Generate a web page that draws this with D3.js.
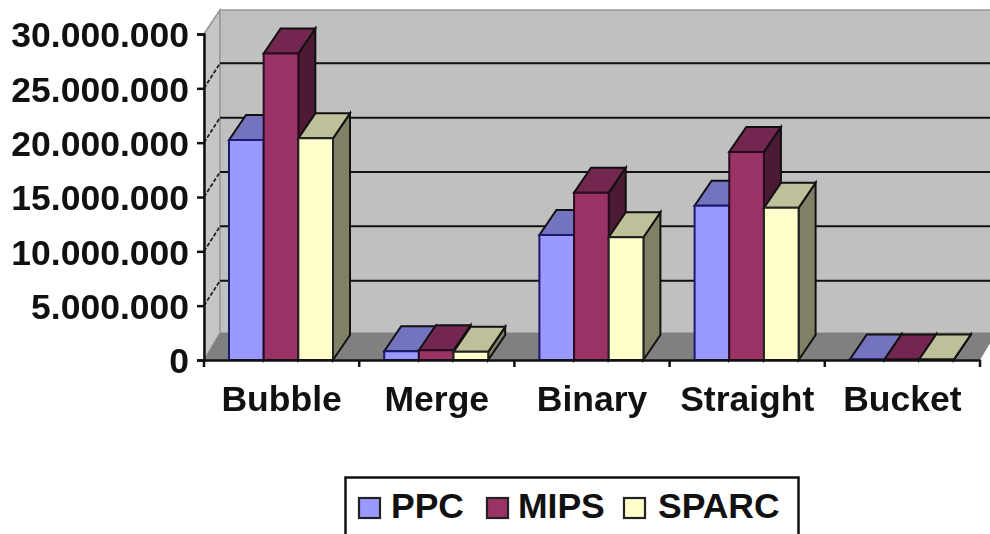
<!DOCTYPE html>
<html><head><meta charset="utf-8">
<style>html,body{margin:0;padding:0;background:#fff;overflow:hidden}svg{display:block;filter:blur(.6px)}text{font-family:"Liberation Sans",Arial,sans-serif;font-weight:700;fill:#111}</style>
<script src="https://cdn.jsdelivr.net/npm/d3@7/dist/d3.min.js"></script>
</head><body><svg id="c" width="990" height="534"></svg>
<script>
const categories = ["Bubble","Merge","Binary","Straight","Bucket"];
const seriesNames = ["PPC","MIPS","SPARC"];
const ppc = [20250000,800000,11500000,14200000,50000];
const mips = [28200000,900000,15400000,19150000,50000];
const sparc = [20400000,750000,11300000,14000000,50000];
const yTicks = [0,5000000,10000000,15000000,20000000,25000000,30000000];
const frontColors = ["#9999ff","#993366","#ffffcc"];
const topColors = ["#7373bf","#732650","#bfbf99"];
const sideColors = ["#4d4d80","#4d1a33","#808066"];
const seriesValues = [ppc,mips,sparc];

const svg = d3.select("#c");
const y = d3.scaleLinear().domain([0,30000000]).range([360,34]);
const x = d3.scaleBand().domain(categories).range([204,980]);
const xs = d3.scaleBand().domain(seriesNames).range([25,129]);
const wallDx = 16, wallDy = 26, barDx = 17, barDy = 25;
const poly = (pts,fill,stroke,sw) => svg.append("polygon").attr("points",pts.map(p=>p.join(",")).join(" "))
  .attr("fill",fill).attr("stroke",stroke||"none").attr("stroke-width",sw||0).attr("stroke-linejoin","miter");

// walls
const L = x.range()[0], R = x.range()[1], B = y(0), T = y(30000000);
poly([[L,B],[L,T],[L+wallDx,T-wallDy+2],[L+wallDx,B-wallDy-1]],"#c6c6c6","#999",1.5);
poly([[L+wallDx,T-wallDy+2],[R+wallDx,T-wallDy+2],[R+wallDx,B-wallDy-1],[L+wallDx,B-wallDy-1]],"#c0c0c0","#999",1.5);
poly([[L,B],[L+wallDx,B-wallDy-1],[R+wallDx,B-wallDy-1],[R,B]],"#808080");

// gridlines
yTicks.filter(v=>v>0 && v<30000000).forEach(v=>{
  svg.append("line").attr("x1",L+wallDx).attr("x2",R+wallDx).attr("y1",y(v)-wallDy+1).attr("y2",y(v)-wallDy+1).attr("stroke","#111").attr("stroke-width",2);
  svg.append("line").attr("x1",L).attr("x2",L+wallDx).attr("y1",y(v)).attr("y2",y(v)-wallDy+1).attr("stroke","#222").attr("stroke-width",1.8).attr("stroke-dasharray","4 2");
});
svg.append("line").attr("x1",L).attr("x2",L+wallDx).attr("y1",T).attr("y2",T-wallDy+2).attr("stroke","#999").attr("stroke-width",1.5).attr("stroke-dasharray","4 2");

// bars
categories.forEach((c,ci)=>{
  seriesNames.forEach((s,si)=>{
    const v = seriesValues[si][ci];
    const x0 = x(c)+xs(s), x1 = x0+xs.bandwidth(), yt = y(v), yb = y(0);
    poly([[x1,yb],[x1+barDx,yb-barDy],[x1+barDx,yt-barDy],[x1,yt]],sideColors[si],"#111",2);
    poly([[x0,yt],[x0+barDx,yt-barDy],[x1+barDx,yt-barDy],[x1,yt]],topColors[si],"#111",2);
    poly([[x0,yb],[x0,yt],[x1,yt],[x1,yb]],frontColors[si],si===0?"#1a1a70":si===1?"#2a0a20":"#222",2);
  });
});

// axes
const fmt = d3.formatLocale({decimal:",",thousands:".",grouping:[3],currency:["",""]}).format(",d");
const ay = svg.append("g").attr("transform",`translate(${L},0)`)
  .call(d3.axisLeft(y).tickValues(yTicks).tickFormat(fmt).tickSize(7).tickPadding(8));
const ax = svg.append("g").attr("transform",`translate(0,${B})`)
  .call(d3.axisBottom(x).tickSize(0).tickPadding(0));
ax.selectAll("text").attr("y",51).attr("dy",0).style("font-size","35.5px");
ay.selectAll("text").style("font-size","35.5px").attr("dy","0.36em");
[ay,ax].forEach(g=>{g.selectAll("path.domain").attr("stroke","#111").attr("stroke-width",2.5);g.selectAll("line").attr("stroke","#111").attr("stroke-width",2.5);g.attr("font-family",null);});
// category boundary ticks
const edges = categories.map(c=>x(c)).concat([R]);
svg.selectAll("line.edge").data(edges).join("line").attr("class","edge")
  .attr("x1",d=>d).attr("x2",d=>d).attr("y1",B).attr("y2",B+7).attr("stroke","#111").attr("stroke-width",2.5);

// legend
svg.append("rect").attr("x",345.5).attr("y",477.5).attr("width",453).attr("height",70).attr("fill","#fff").attr("stroke","#111").attr("stroke-width",2.5);
const swatchX = [359,487,624], textX = [391,518,658];
seriesNames.forEach((s,i)=>{
  svg.append("rect").attr("x",swatchX[i]).attr("y",498).attr("width",21).attr("height",20).attr("fill",frontColors[i]).attr("stroke","#222").attr("stroke-width",2.2);
  svg.append("text").attr("x",textX[i]).attr("y",518).style("font-size","35.5px").text(s);
});
</script></body></html>
